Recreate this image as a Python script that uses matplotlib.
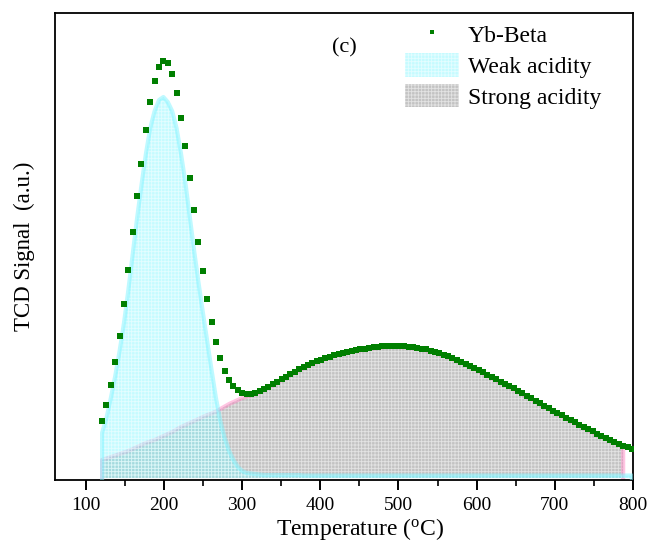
import numpy as np
import matplotlib
matplotlib.use("Agg")
import matplotlib.pyplot as plt
from matplotlib.ticker import MultipleLocator, NullLocator

plt.rcParams['font.family'] = ['Liberation Serif', 'DejaVu Serif']
plt.rcParams['mathtext.fontset'] = 'custom'
plt.rcParams['mathtext.rm'] = 'Liberation Serif'
plt.rcParams['hatch.color'] = (1, 1, 1, 0.55)
plt.rcParams['hatch.linewidth'] = 0.6

# TPD signal of Yb-Beta, sampled every 5.6 C starting at 121 C
t_start = 121
t_step = 5.6
signal = [57, 73, 93, 116, 142, 174, 208, 246, 282, 314, 348, 376, 397, 411, 417,
          415, 404, 385, 360, 332, 300, 268, 236, 207, 179, 156, 136, 120, 107, 98, 92,
          88, 85.5, 84.5, 84.5, 85.5, 87, 89, 91.5, 94, 96.5, 99, 101.5, 104, 106.5,
          109, 111, 113, 115, 117, 118.5, 120, 121.5, 123, 124.3, 125.5, 126.5, 127.3,
          128, 128.7, 129.5, 130.2, 130.8, 131.3, 131.7, 132, 132.2, 132.2, 132, 131.7,
          131.3, 130.8, 130.2, 129.5, 128.7, 127.5, 126.2, 124.8, 123.3, 121.7, 120,
          118.3, 116.5, 114.5, 112.5, 110.3, 108, 105.7, 103.3, 101, 98.8, 96.5, 94.2,
          92, 89.7, 87.3, 85, 82.5, 80, 77.5, 75, 72.5, 70, 67.5, 65, 62.7, 60.3, 58,
          55.7, 53.3, 51, 48.8, 46.6, 44.5, 42.4, 40.3, 38.3, 36.3, 34.4, 32.5, 30.7, 29]

# fitted components (same sampling)
weak = [45, 60, 80, 102, 127, 155, 188, 224, 260, 293, 324, 350, 367, 378, 381,
        376, 367, 350, 325, 296, 262, 228, 196, 166, 137, 108, 80, 57, 40, 27, 18,
        11, 7, 5, 4.5, 4, 3.5, 3, 3, 3, 3, 3, 3, 3, 3, 3, 2.5, 2.5, 2.5, 2.5,
        2.5, 2.5, 2.5, 2.5, 2.5, 2.5, 2.5, 2.5, 2.5, 2.5, 2.5, 2.5, 2.5, 2.5, 2.5, 2.5,
        2.5, 2.5, 2.5, 2.5, 2.5, 2.5, 2.5, 2.5, 2.5, 2.5, 2.5, 2.5, 2.5, 2.5, 2.5, 2.5,
        2.5, 2.5, 2.5, 2.5, 2.5, 2.5, 2.5, 2.5, 2.5, 2.5, 2.5, 2.5, 2.5, 2.5, 2.5, 2.5,
        2.5, 2.5, 2.5, 2.5, 2.5, 2.5, 2.5, 2.5, 2.5, 2.5, 2.5, 2.5, 2.5, 2.5, 2.5, 2.5,
        2.5, 2.5, 2.5, 2.5, 2.5, 2.5, 2.5, 2.5]
strong = [18, 19.5, 21, 22.5, 24, 25.5, 27, 29, 31, 33, 35, 36.5, 38, 40, 42, 44, 46,
          48.5, 51, 53, 55, 57, 59, 61, 63, 64.5, 66.5, 69, 71.5, 74, 76, 78, 80, 81.5,
          82.5, 84, 86, 88, 90.5, 93, 95.5, 98, 100.5, 103, 105.5, 108, 110, 112, 114,
          116, 117.5, 119, 120.5, 122, 123.3, 124.5, 125.5, 126.3, 127, 127.7, 128.5,
          129.2, 129.8, 130.3, 130.7, 131, 131.2, 131.2, 131, 130.7, 130.3, 129.8, 129.2,
          128.5, 127.7, 126.5, 125.2, 123.8, 122.3, 120.7, 119, 117.3, 115.5, 113.5,
          111.5, 109.3, 107, 104.7, 102.3, 100, 97.8, 95.5, 93.2, 91, 88.7, 86.3, 84,
          81.5, 79, 76.5, 74, 71.5, 69, 66.5, 64, 61.7, 59.3, 57, 54.7, 52.3, 50, 47.8,
          45.6, 43.5, 41.4, 39.3, 37.3, 35.3, 33.4, 31.5]

temps = t_start + t_step * np.arange(len(signal))
t_weak = temps[:len(weak)]
t_strong = temps[:len(strong)]

fig = plt.figure(figsize=(6.51, 5.43), dpi=100)
ax = fig.add_axes([0.0845, 0.116, 0.8879, 0.86])

# strong acidity
ax.fill_between(t_strong, 0, strong, facecolor='#c3c3c3', linewidth=0,
                hatch='+++++', zorder=1, label='Strong acidity')
ax.plot(np.r_[t_strong[0], t_strong, t_strong[-1]], np.r_[0, strong, 0],
        color='#ff80c0', alpha=0.45, lw=3, zorder=2)

# weak acidity
ax.fill_between(t_weak, 0, weak, facecolor='#7ff8ff', alpha=0.45, linewidth=0,
                hatch='+++++', zorder=3, label='Weak acidity')
ax.plot(np.r_[t_weak[0], t_weak, t_weak[-1]], np.r_[0, weak, 0],
        color='#80f4ff', alpha=0.5, lw=3, zorder=4)

ax.plot(temps, signal, 's', color='#007f00', markersize=4.2, markeredgewidth=0,
        zorder=5)
# smaller marker for the legend entry
ax.plot([], [], 's', color='#007f00', markersize=3.2, markeredgewidth=0,
        label='Yb-Beta')

ax.set_xlim(60.8, 800)
ax.set_ylim(-2, 465)
ax.xaxis.set_major_locator(MultipleLocator(100))
ax.xaxis.set_minor_locator(MultipleLocator(50))
ax.yaxis.set_major_locator(NullLocator())
ax.tick_params(axis='x', which='major', direction='out', length=7, width=1.4,
               labelsize=14, pad=5)
ax.tick_params(axis='x', which='minor', direction='out', length=4, width=1.2)
for sp in ax.spines.values():
    sp.set_linewidth(1.3)

ax.set_xlabel(r'Temperature ($\mathregular{^{o}}$C)', fontsize=17)
ax.xaxis.set_label_coords(0.527, -0.077)
ax.set_ylabel('TCD Signal  (a.u.)', fontsize=16.5)
ax.yaxis.set_label_coords(-0.035, 0.5)

ax.text(0.5, 0.925, '(c)', transform=ax.transAxes, fontsize=16,
        ha='center', va='center')

h, l = ax.get_legend_handles_labels()
order = [2, 1, 0]
ax.legend([h[i] for i in order], [l[i] for i in order], loc='upper left',
          bbox_to_anchor=(0.6055, 0.980), frameon=False, fontsize=17,
          borderaxespad=0, borderpad=0, handlelength=2.29, handleheight=1.15,
          handletextpad=0.38, labelspacing=0.255)

fig.savefig('out.png', dpi=100)
